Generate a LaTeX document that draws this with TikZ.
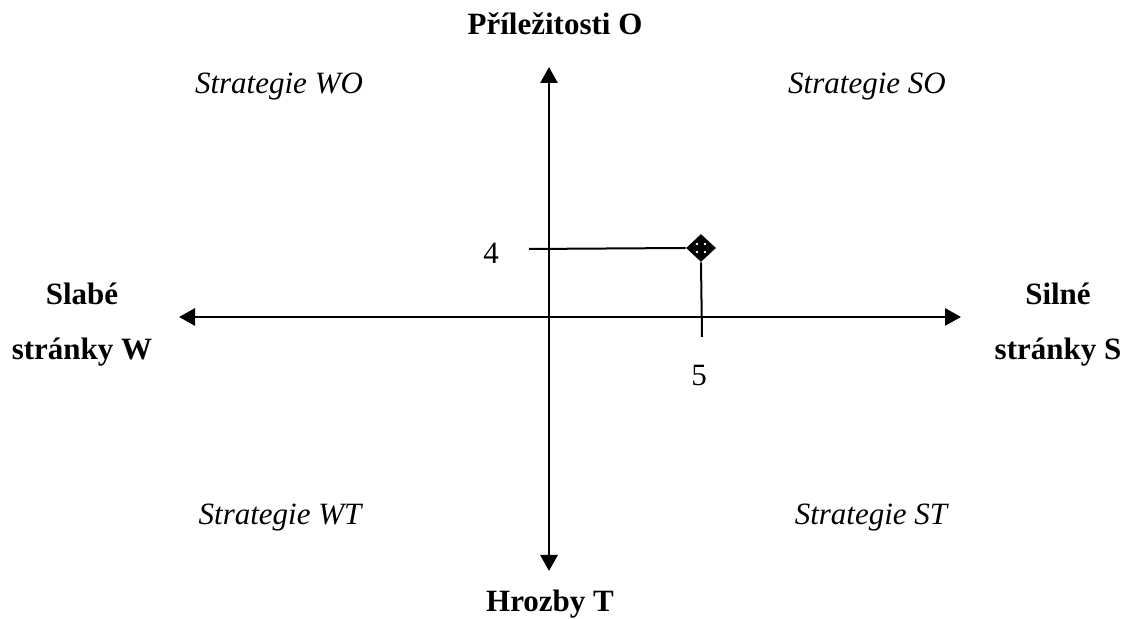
\documentclass[tikz,border=0pt]{standalone}
\usepackage{fontspec}
\setmainfont{Liberation Serif}
\usetikzlibrary{arrows.meta,positioning,shapes.geometric,calc}

\begin{document}
\begin{tikzpicture}[
      x=0.5pt,y=-0.5pt,
      axis/.style={line width=1.4pt,{Triangle[length=8pt,width=8.5pt]}-{Triangle[length=8pt,width=8.5pt]}},
      guide/.style={line width=1pt},
      side/.style={font=\fontsize{15.5}{27.5}\selectfont\bfseries,align=center},
      quad/.style={font=\fontsize{15.5}{18}\selectfont\itshape},
      num/.style={font=\fontsize{15.5}{18}\selectfont},
      marker/.style={diamond,fill=black,inner sep=0pt,minimum width=15pt,minimum height=14pt}
    ]
    \useasboundingbox (0,0) rectangle (1132,619);
    % axes
    \coordinate (west) at (179,317);
    \coordinate (east) at (961,317);
    \coordinate (north) at (549,67);
    \coordinate (south) at (549,571);
    \draw[axis] (west)--(east);
    \draw[axis] (north)--(south);
    % side labels
    \node[side,anchor=base] (opp) at (555,35) {Příležitosti O};
    \node[side,anchor=base] (thr) at (550,612) {Hrozby T};
    \node[side] (weak) at (82,325) {Slabé\\stránky W};
    \node[side] (strong) at (1058,325) {Silné\\stránky S};
    % quadrants
    \node[quad] (wo) at (279,87) {Strategie WO};
    \node[quad] (so) at (867,87) {Strategie SO};
    \node[quad] (wt) at (280,518) {Strategie WT};
    \node[quad] (st) at (871,518) {Strategie ST};
    % point
    \node[marker] (pt) at (701,248) {};
    \foreach \dx/\dy in {-4/-4,4/-4,-4/4,4/4}
      \fill[white] ($(pt)+(\dx,\dy)$) circle (0.7pt);
    \coordinate (ytick) at (529,249);
    \coordinate (xtick) at (702,337);
    \draw[guide] (ytick)--(pt.west);
    \draw[guide] (pt.south)--(xtick);
    \node[num] (four) at (491,253) {4};
    \node[num] (five) at (699,376) {5};
  \end{tikzpicture}
\end{document}
